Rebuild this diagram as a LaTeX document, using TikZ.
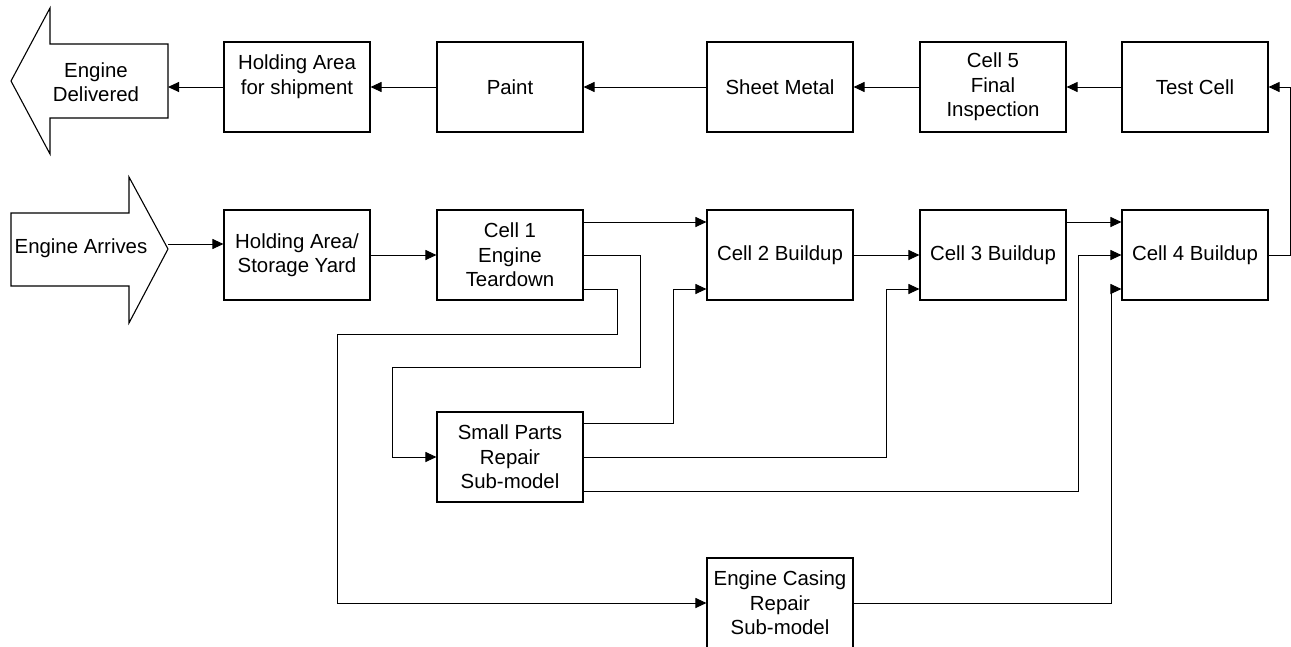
\documentclass[tikz,border=0pt]{standalone}
\usepackage{fontspec}
\setmainfont{Liberation Sans}
\usetikzlibrary{arrows.meta,calc}
\begin{document}
\begin{tikzpicture}[x=1pt,y=-1pt,
  box/.style={draw,line width=1.1pt,minimum width=146pt,minimum height=90pt,inner sep=0pt,align=center,font=\fontsize{20.4}{24.4}\selectfont},
  lbl/.style={inner sep=0pt,align=center,font=\fontsize{20.4}{24.4}\selectfont},
  bigarrow/.style={draw,line width=1.1pt,line join=miter},
  conn/.style={line width=1pt,-{Triangle[length=11pt,width=10pt]}}]
\useasboundingbox (0,0) rectangle (1291,646);
% big arrows
\draw[bigarrow] (11,81) -- (50,8) -- (50,44) -- (168,44) -- (168,118) -- (50,118) -- (50,154) -- cycle;
\node[lbl] (deliv) at (96,82) {Engine\\Delivered};
\coordinate (delivIn) at (168,87);
\draw[bigarrow] (11,213) -- (129,213) -- (129,177) -- (168,249) -- (129,323) -- (129,286) -- (11,286) -- cycle;
\node[lbl] (arrive) at (81,248) {Engine Arrives};
\coordinate (arriveOut) at (168,244);
% top row
\node[box] (hs) at (297,87) {Holding Area\\for shipment\\\mbox{}};
\node[box] (paint) at (510,87) {Paint};
\node[box] (sheet) at (780,87) {Sheet Metal};
\node[box] (cfive) at (993,87) {Cell 5\\Final\\Inspection};
\node[box] (test) at (1195,87) {Test Cell};
% middle row
\node[box] (hy) at (297,255) {Holding Area/\\Storage Yard};
\node[box] (cone) at (510,255) {Cell 1\\Engine\\Teardown};
\node[box] (ctwo) at (780,255) {Cell 2 Buildup};
\node[box] (cthree) at (993,255) {Cell 3 Buildup};
\node[box] (cfour) at (1195,255) {Cell 4 Buildup};
% bottom
\node[box] (sp) at (510,457) {Small Parts\\Repair\\Sub-model};
\node[box] (ec) at (780,603) {Engine Casing\\Repair\\Sub-model};
% connectors top row
\draw[conn] (hs.west) -- (delivIn);
\draw[conn] (paint.west) -- (hs.east);
\draw[conn] (sheet.west) -- (paint.east);
\draw[conn] (cfive.west) -- (sheet.east);
\draw[conn] (test.west) -- (cfive.east);
\draw[conn] (cfour.east) -- (1290,255) -- (1290,87) -- (test.east);
% middle row
\draw[conn] (arriveOut) -- (hy.west |- arriveOut);
\draw[conn] (hy.east) -- (cone.west);
\draw[conn] ([yshift=33pt]cone.east) -- ([yshift=33pt]ctwo.west);
\draw[conn] (cone.east) -- (640,255) -- (640,367) -- (392,367) |- (sp.west);
\draw[conn] ([yshift=-34pt]cone.east) -- (617,289) -- (617,334) -- (337,334) |- (ec.west);
\draw[conn] ([yshift=34pt]sp.east) -- (673,423) |- ([yshift=-34pt]ctwo.west);
\draw[conn] (ctwo.east) -- (cthree.west);
\draw[conn] (sp.east) -- (886,457) |- ([yshift=-34pt]cthree.west);
\draw[conn] ([yshift=33pt]cthree.east) -- ([yshift=33pt]cfour.west);
\draw[conn] ([yshift=-34pt]sp.east) -- (1078,491) |- (cfour.west);
\draw[conn] (ec.east) -- (1111,603) |- ([yshift=-34pt]cfour.west);
\end{tikzpicture}
\end{document}
